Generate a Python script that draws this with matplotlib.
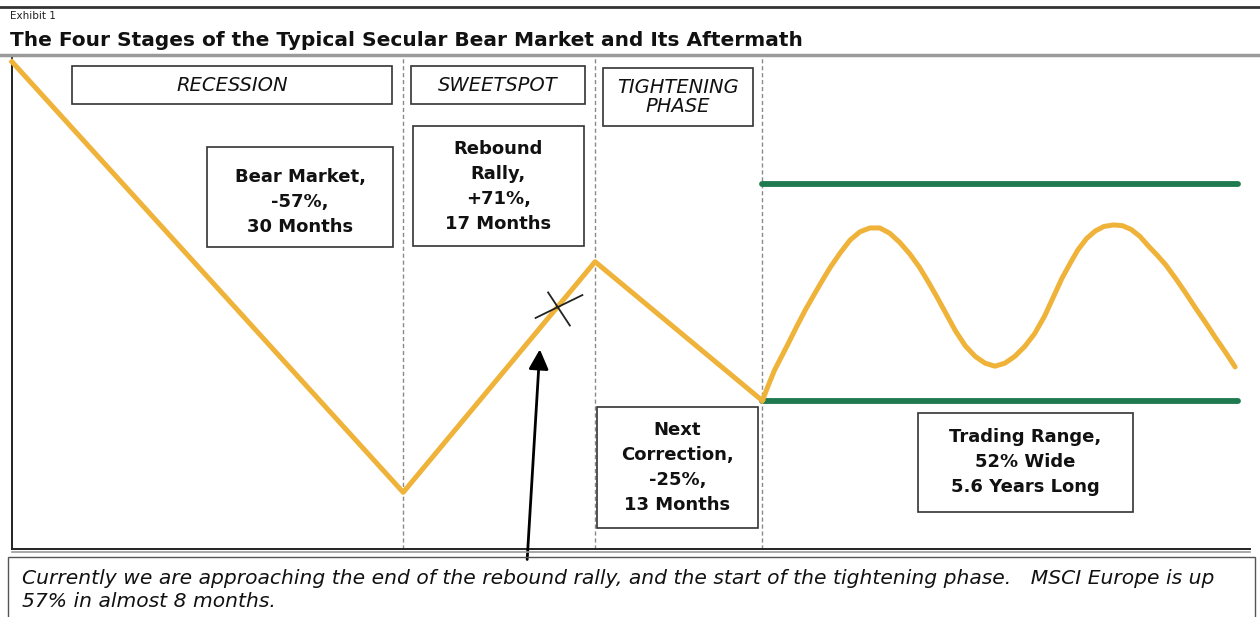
import numpy as np
import matplotlib.pyplot as plt
from matplotlib.patches import Rectangle
from matplotlib.lines import Line2D
from matplotlib.path import Path

# stage boundaries on a 0-100 schematic time axis
stage_x = [0, 31.6, 47.1, 60.6]
start_level = 100
bear_pct = -57
rally_pct = 71
correction_pct = -25
range_width_pct = 52
now_up_pct = 57

# trading range oscillation (schematic time, index level)
wave_x = [60.6, 61.1, 61.6, 62.2, 62.7, 63.4, 64.1, 64.8, 65.4, 66.1, 66.9, 67.7,
          68.5, 69.3, 70.1, 70.9, 71.7, 72.5, 73.3, 74.0, 74.7, 75.4, 76.2, 77.0,
          77.8, 78.6, 79.4, 80.2, 81.0, 81.8, 82.6, 83.4, 84.1, 84.8, 85.5, 86.1,
          86.8, 87.5, 88.2, 89.0, 89.7, 90.4, 91.1, 91.8, 92.5, 93.2, 94.0, 94.8,
          95.6, 96.4, 97.2, 98.0, 98.8]
wave_y = [55.1, 57.2, 59.2, 61.1, 62.7, 65.0, 67.2, 69.2, 70.9, 72.8, 74.7, 76.4,
          77.5, 78.0, 78.0, 77.3, 76.1, 74.6, 72.8, 70.9, 68.9, 66.8, 64.4, 62.4,
          61.0, 60.1, 59.7, 60.1, 61.0, 62.3, 64.0, 66.3, 68.8, 71.3, 73.4, 75.1,
          76.6, 77.6, 78.2, 78.4, 78.3, 77.8, 76.9, 75.6, 74.4, 73.1, 71.3, 69.4,
          67.4, 65.5, 63.5, 61.6, 59.6]
range_end_x = 99.0

trough = start_level * (1 + bear_pct / 100)
peak = trough * (1 + rally_pct / 100)
bottom = peak * (1 + correction_pct / 100)
range_top = bottom * (1 + range_width_pct / 100)
stage_y = [start_level, trough, peak, bottom]

now_level = trough * (1 + now_up_pct / 100)
now_x = np.interp(now_level, [trough, peak], [stage_x[1], stage_x[2]])
arrow_tip = (42.65, 62.3)

ORANGE = '#EFB33A'
GREEN = '#1F7A4F'

fig = plt.figure(figsize=(12.6, 6.17), dpi=100)
W, H = 1260, 617
ax = fig.add_axes([12 / W, (H - 549) / H, 1238 / W, 491 / H])
ax.set_xlim(0, 100)
ax.set_ylim(35.5, 100.5)
ax.set_xticks([])
ax.set_yticks([])
for s in ['top', 'right']:
    ax.spines[s].set_visible(False)
for s in ['left', 'bottom']:
    ax.spines[s].set_color('#222222')
    ax.spines[s].set_linewidth(1.4)

# stage dividers
for x in stage_x[1:]:
    ax.axvline(x, color='#8a8a8a', lw=1, ls=(0, (3, 2)), zorder=1)

# trading range bounds
ax.plot([stage_x[3], range_end_x], [range_top, range_top], color=GREEN, lw=4.2,
        solid_capstyle='round', zorder=2)
ax.plot([stage_x[3], range_end_x], [bottom, bottom], color=GREEN, lw=4.2,
        solid_capstyle='round', zorder=2)

# market path
ax.plot(stage_x, stage_y, color=ORANGE, lw=3.6, solid_joinstyle='round', zorder=3,
        clip_on=False)
ax.plot(wave_x, wave_y, color=ORANGE, lw=3.6, solid_joinstyle='round',
        solid_capstyle='round', zorder=3)

# "you are here" cross
cross = Path([(-23, -11), (26, 13), (-10, 16), (13, -19)],
             [Path.MOVETO, Path.LINETO, Path.MOVETO, Path.LINETO])
ax.plot([now_x], [now_level], marker=cross, markersize=37, markeredgewidth=1.3,
        color='#222222', zorder=4)

ax.annotate('', xy=arrow_tip, xytext=(0.416, -0.027), textcoords='axes fraction',
            arrowprops=dict(arrowstyle='-|>,head_length=0.6,head_width=0.3',
                            mutation_scale=20, lw=2, color='black'),
            annotation_clip=False, zorder=6)


def box(x0, y0, x1, y1, text, bold=False, italic=False, size=13, ls=1.5, dy=0.0):
    ax.add_patch(Rectangle((x0, y0), x1 - x0, y1 - y0, transform=ax.transAxes,
                           facecolor='white', edgecolor='#333333', lw=1.2, zorder=5))
    ax.text((x0 + x1) / 2, (y0 + y1) / 2 + dy, text, transform=ax.transAxes,
            ha='center', va='center', multialignment='center', fontsize=size,
            fontweight='bold' if bold else 'normal',
            fontstyle='italic' if italic else 'normal',
            linespacing=ls, color='#111111', zorder=6)


box(0.0485, 0.906, 0.3069, 0.984, 'RECESSION', italic=True, size=14)
box(0.3223, 0.906, 0.4628, 0.984, 'SWEETSPOT', italic=True, size=14)
box(0.4774, 0.8615, 0.5985, 0.9796, 'TIGHTENING\nPHASE', italic=True, size=14, ls=0.95)
box(0.1575, 0.615, 0.3078, 0.8187, 'Bear Market,\n-57%,\n30 Months', bold=True, dy=-0.01)
box(0.3239, 0.6171, 0.4620, 0.8615, 'Rebound\nRally,\n+71%,\n17 Months', bold=True)
box(0.4725, 0.0428, 0.6026, 0.2892, 'Next\nCorrection,\n-25%,\n13 Months', bold=True)
box(0.7318, 0.0754, 0.9055, 0.277, 'Trading Range,\n52% Wide\n5.6 Years Long', bold=True)

# header rules and titles
fig.add_artist(Line2D([0, 1], [1 - 7 / H, 1 - 7 / H], color='#333333', lw=2))
fig.add_artist(Line2D([0, 1], [1 - 55 / H, 1 - 55 / H], color='#9a9a9a', lw=2.5))
fig.add_artist(Line2D([12 / W, 1250 / W], [1 - 552 / H, 1 - 552 / H], color='#9a9a9a', lw=1.2))
fig.text(10 / W, 1 - 16 / H, 'Exhibit 1', fontsize=7.5, va='center', color='#222222')
fig.text(10 / W, 1 - 40 / H,
         'The Four Stages of the Typical Secular Bear Market and Its Aftermath',
         fontsize=14.5, fontweight='bold', va='center', color='#111111')

# footnote
fig.add_artist(Rectangle((8 / W, -0.02), 1247 / W, (H - 557) / H + 0.02,
                         transform=fig.transFigure, fill=False,
                         edgecolor='#555555', lw=1))
fig.text(22 / W, 1 - 584 / H,
         'Currently we are approaching the end of the rebound rally, and the start of '
         'the tightening phase.   MSCI Europe is up',
         fontsize=14.6, fontstyle='italic', va='baseline', color='#111111')
fig.text(22 / W, 1 - 607 / H, '57% in almost 8 months.',
         fontsize=14.6, fontstyle='italic', va='baseline', color='#111111')

fig.savefig('out.png', dpi=100)
